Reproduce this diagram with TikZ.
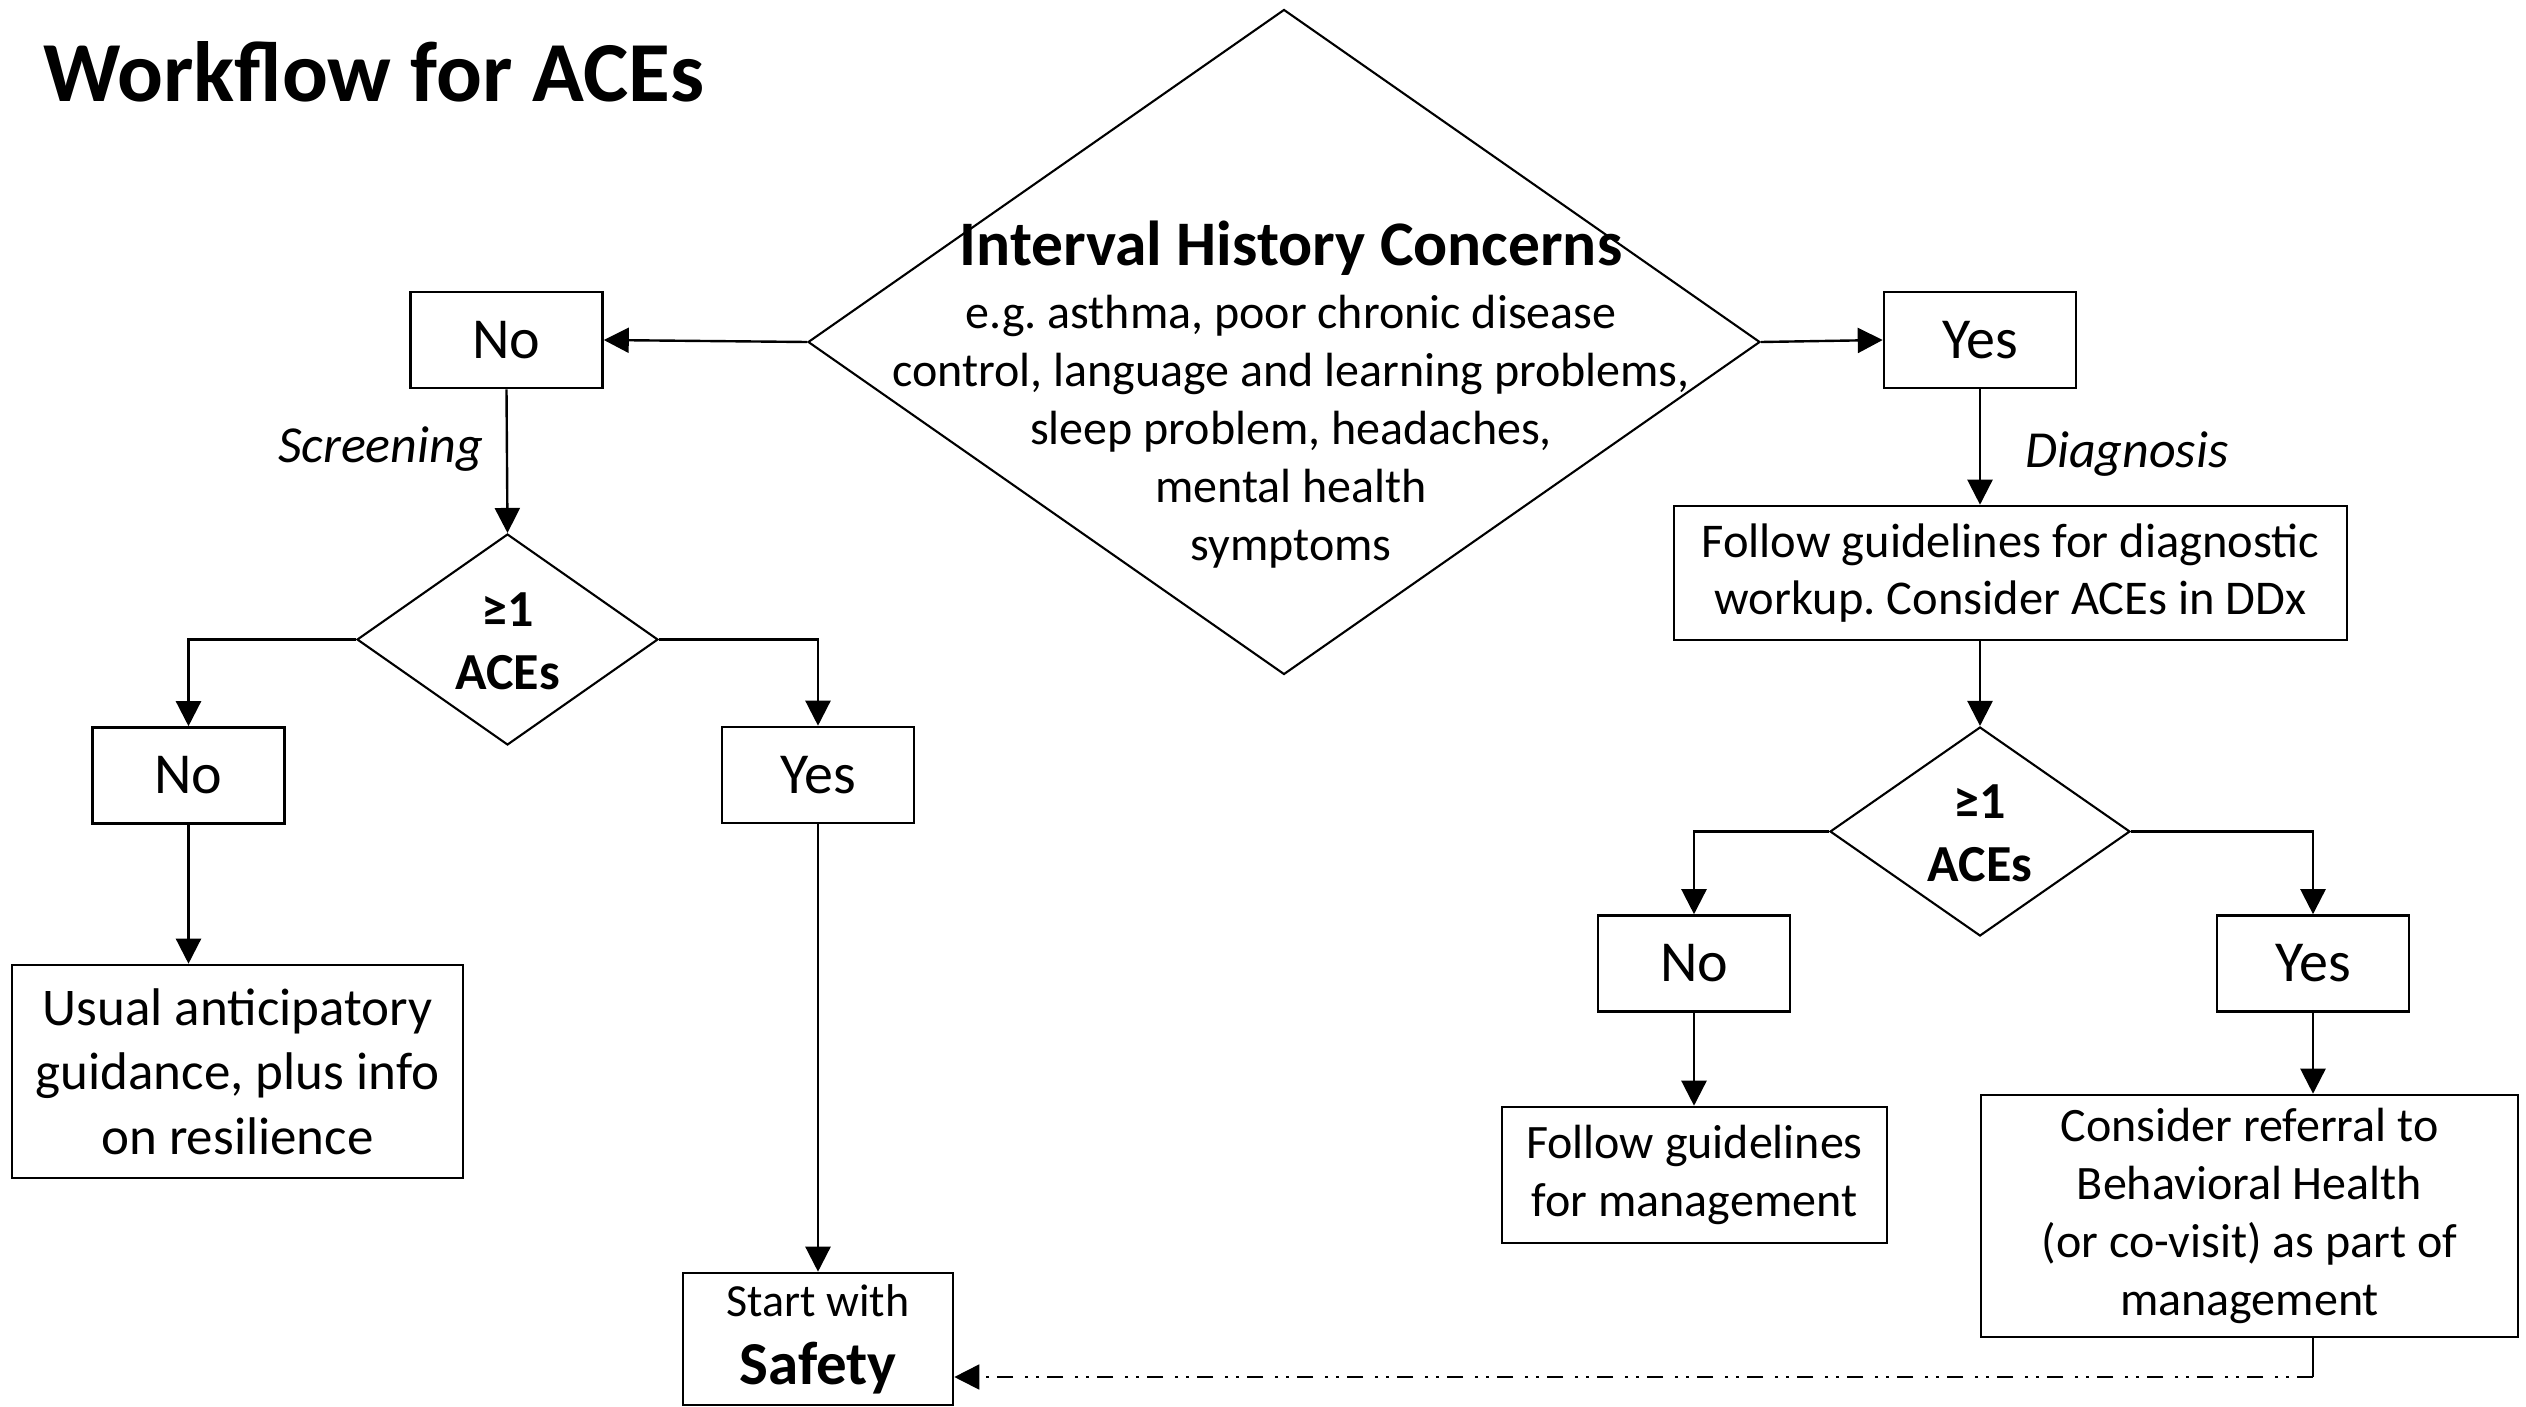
\documentclass[tikz,border=0pt]{standalone}
\usepackage{fontspec}
\setmainfont{Carlito}
\usetikzlibrary{shapes.geometric,arrows.meta}
\frenchspacing
\begin{document}
\begin{tikzpicture}[x=1pt,y=-1pt,
  box/.style={draw,line width=2.6pt,rectangle,inner sep=0pt,align=center},
  dia/.style={draw,line width=2.1pt,diamond,inner sep=0pt},
  conn/.style={line width=2.4pt},
  arr/.style={conn,-{Triangle[length=25pt,width=25pt]}},
  dashconn/.style={line width=1.8pt,dash pattern=on 16pt off 8pt on 3pt off 8pt on 3pt off 12pt,-{Triangle[length=25pt,width=25pt]}},
  yn/.style={box,minimum width=192pt,minimum height=96pt,font=\fontsize{58}{70}\selectfont},
  plain/.style={inner sep=0pt,align=center},
  acetext/.style={plain,font=\fontsize{52}{63}\selectfont\bfseries},
  lbl/.style={inner sep=0pt,font=\fontsize{52}{60}\selectfont\itshape}
]
\useasboundingbox (0,0) rectangle (2526,1407);

% title
\node[inner sep=0pt,anchor=west,font=\fontsize{85.5}{100}\selectfont\bfseries] (title) at (43,72) {Workflow for ACEs};

% big diamond
\node[dia,minimum width=952pt,minimum height=665pt] (bigd) at (1284,342) {};
\node[plain,font=\fontsize{63.5}{70}\selectfont\bfseries] (bigt) at (1291,248) {Interval History Concerns};
\node[plain,font=\fontsize{48}{58}\selectfont] (bigb) at (1291,432) {e.g. asthma, poor chronic disease\\control, language and learning problems,\\sleep problem, headaches,\\mental health\\symptoms};

% top yes/no
\node[yn] (noT) at (506.5,340) {No};
\node[yn] (yesT) at (1980,340) {Yes};

% left branch
\node[dia,minimum width=301pt,minimum height=211pt] (dL) at (507.5,639.5) {};
\node[acetext] (dLt) at (507.5,641) {≥1\\ACEs};
\node[yn] (noL) at (188.5,775.5) {No};
\node[yn] (yesL) at (818,775) {Yes};
\node[box,minimum width=451pt,minimum height=213pt,font=\fontsize{53}{64.5}\selectfont] (usual) at (237.5,1071.5) {Usual anticipatory\\guidance, plus info\\on resilience};
\node[box,minimum width=270pt,minimum height=132pt,font=\fontsize{46}{68}\selectfont] (safety) at (818,1339) {Start with\\{\fontsize{61}{68}\selectfont\bfseries Safety}};

% right branch
\node[box,minimum width=673pt,minimum height=134pt,font=\fontsize{48.5}{57}\selectfont] (diag) at (2010.5,573) {Follow guidelines for diagnostic\\workup. Consider ACEs in DDx};
\node[dia,minimum width=300pt,minimum height=209pt] (dR) at (1980,831.5) {};
\node[acetext] (dRt) at (1980,833) {≥1\\ACEs};
\node[yn] (noR) at (1694,963.5) {No};
\node[yn] (yesR) at (2313,963.5) {Yes};
\node[box,minimum width=385pt,minimum height=136pt,font=\fontsize{48}{58}\selectfont] (mgmt) at (1694.5,1175) {Follow guidelines\\for management};
\node[box,minimum width=537pt,minimum height=242pt,font=\fontsize{48}{58}\selectfont] (refer) at (2249.5,1216) {Consider referral to\\Behavioral Health\\(or co-visit) as part of\\management};

% labels
\node[lbl,anchor=east] (scr) at (483,449) {Screening};
\node[lbl,anchor=west] (dgn) at (2025,454) {Diagnosis};

% connectors
\draw[arr] (bigd.west) -- (noT.east);
\draw[arr] (bigd.east) -- (yesT.west);
\draw[arr] (noT.south) -- (dL.north);
\draw[arr] (dL.west) -| (noL.north);
\draw[arr] (dL.east) -| (yesL.north);
\draw[arr] (noL.south) -- (usual.north -| noL.south);
\draw[arr] (yesL.south) -- (safety.north);
\draw[arr] (yesT.south) -- (diag.north -| yesT.south);
\draw[arr] (diag.south -| dR.north) -- (dR.north);
\draw[arr] (dR.west) -| (noR.north);
\draw[arr] (dR.east) -| (yesR.north);
\draw[arr] (noR.south) -- (mgmt.north -| noR.south);
\draw[arr] (yesR.south) -- (refer.north -| yesR.south);
\coordinate (dcorner) at (2313,1377);
\draw[line width=1.8pt] (refer.south -| yesR.south) -- (dcorner);
\draw[dashconn] (dcorner) -- (safety.east |- dcorner);
\end{tikzpicture}
\end{document}
